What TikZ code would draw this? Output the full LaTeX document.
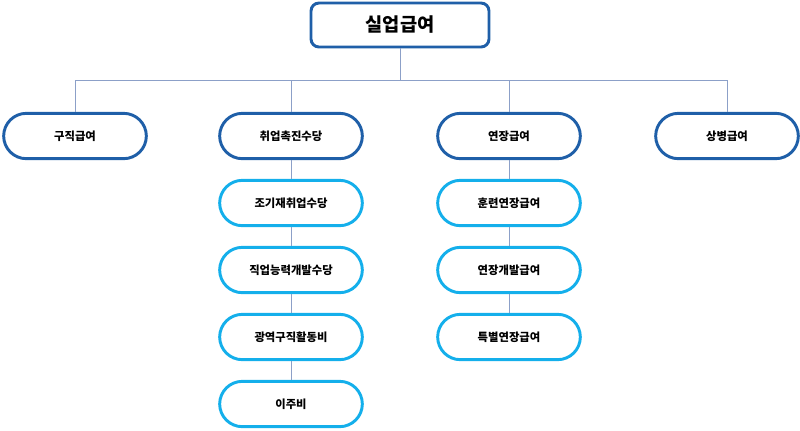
\documentclass[tikz,border=0pt]{standalone}
\usepackage{fontspec}
\setmainfont{Noto Sans CJK KR}
\usepackage{xcolor}
\definecolor{darkblue}{RGB}{31,95,168}
\definecolor{lightblue}{RGB}{20,175,235}
\definecolor{linegray}{RGB}{140,160,200}

\begin{document}
\begin{tikzpicture}[x=0.75pt,y=-0.75pt,
    topbox/.style={draw=darkblue, line width=2.2pt, rounded corners=6pt, fill=white,
        minimum width=133.5pt, minimum height=33pt, font=\fontsize{14}{16}\selectfont\bfseries},
    mainbox/.style={draw=darkblue, line width=2.2pt, rounded corners=17pt, fill=white,
        minimum width=107pt, minimum height=34pt, font=\fontsize{8.5}{10}\selectfont\bfseries},
    subbox/.style={draw=lightblue, line width=2.2pt, rounded corners=17pt, fill=white,
        minimum width=107pt, minimum height=34pt, font=\fontsize{8.5}{10}\selectfont\bfseries},
    link/.style={draw=linegray, line width=0.6pt}]
    \useasboundingbox (0,0) rectangle (800,430);

    % Top
    \node[topbox] (top) at (400,25) {실업급여};

    % Second row
    \node[mainbox] (m1) at (75,136) {구직급여};
    \node[mainbox] (m2) at (291,136) {취업촉진수당};
    \node[mainbox] (m3) at (509,136) {연장급여};
    \node[mainbox] (m4) at (727,136) {상병급여};

    % Branch
    \coordinate (hub) at (400,80);
    \coordinate (h1) at (75,80);
    \coordinate (h2) at (291,80);
    \coordinate (h3) at (509,80);
    \coordinate (h4) at (727,80);

    % Sub items
    \node[subbox] (s1) at (291,203) {조기재취업수당};
    \node[subbox] (s2) at (291,270) {직업능력개발수당};
    \node[subbox] (s3) at (291,337) {광역구직활동비};
    \node[subbox] (s4) at (291,404) {이주비};
    \node[subbox] (t1) at (509,203) {훈련연장급여};
    \node[subbox] (t2) at (509,270) {연장개발급여};
    \node[subbox] (t3) at (509,337) {특별연장급여};

    % Lines
    \draw[link] (top) -- (hub);
    \draw[link] (h1) -- (h4);
    \draw[link] (h1) -- (m1);
    \draw[link] (h2) -- (m2);
    \draw[link] (h3) -- (m3);
    \draw[link] (h4) -- (m4);
    \draw[link] (m2) -- (s1) -- (s2) -- (s3) -- (s4);
    \draw[link] (m3) -- (t1) -- (t2) -- (t3);
\end{tikzpicture}
\end{document}
